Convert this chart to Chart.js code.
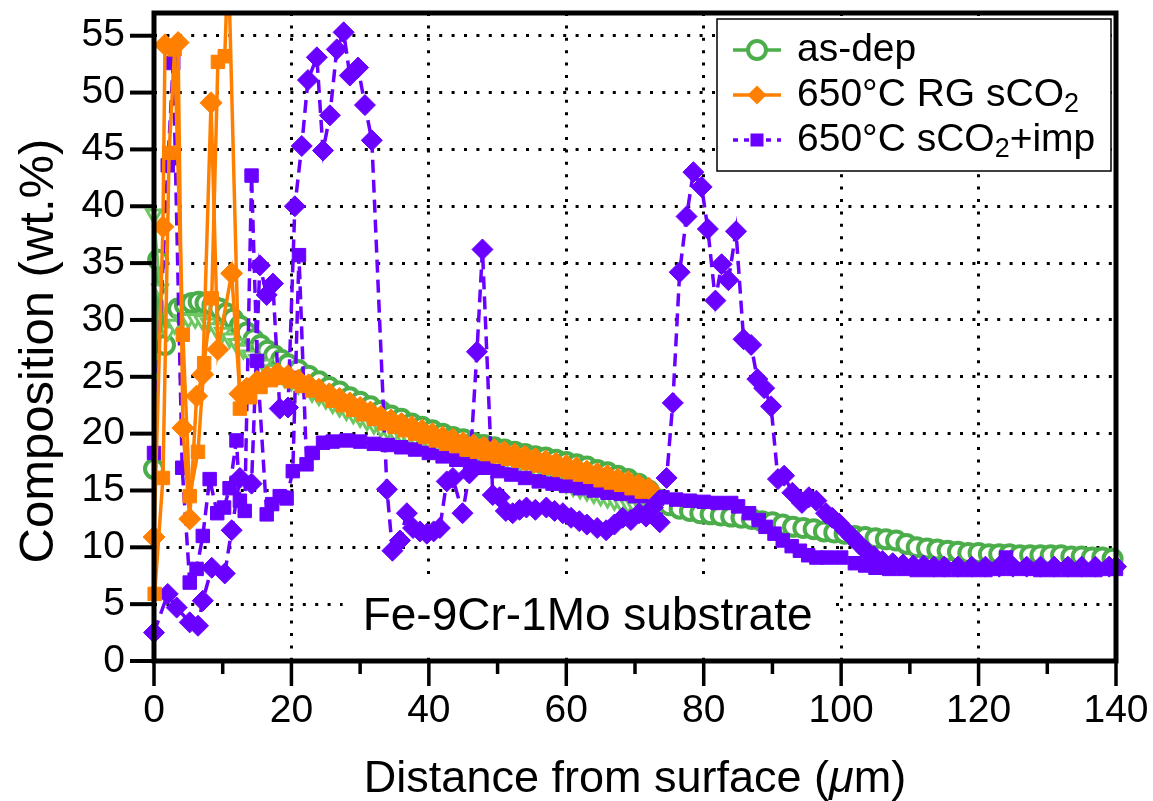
<!DOCTYPE html>
<html lang="en">
<head>
<meta charset="UTF-8">
<title>Composition profile</title>
<script src="https://cdn.jsdelivr.net/npm/chart.js@4.4.0/dist/chart.umd.min.js"></script>
<style>
  html, body { margin: 0; padding: 0; background: #fff; }
  #wrap { width: 1153px; height: 801px; }
</style>
</head>
<body>
<div id="wrap"><canvas id="chart" width="1153" height="801"></canvas></div>
<script>
// as-dep (open circles, and the second as-dep profile in triangles)
const asDepCircles = [[0,16.9],[0.6,35.3],[1.6,27.8],[2.5,30.2],[3.5,31.0],[4.5,31.3],[5.5,31.5],[6.5,31.6],[7.5,31.5],[8.5,31.3],[9.5,31.0],[10.5,30.6],[11.5,30.1],[12.5,29.5],[13.5,28.9],[14.5,28.3],[15.5,27.8],[16.5,27.3],[17.5,26.9],[18.5,26.5],[19.5,26.1],[21,25.6],[22.5,25.1],[24,24.6],[25.5,24.1],[27,23.7],[28.5,23.2],[30,22.8],[31.5,22.4],[33,22.0],[34.5,21.6],[36,21.3],[37.5,20.9],[39,20.6],[40.5,20.3],[42,20.0],[43.5,19.7],[45,19.5],[46.5,19.2],[48,19.0],[49.5,18.8],[51,18.6],[52.5,18.4],[54,18.2],[55.5,18.0],[57,17.9],[58.5,17.7],[60,17.5],[61.5,17.3],[63,17.1],[64.5,16.8],[66,16.6],[67.5,16.3],[69,16.0],[70.5,15.6],[72,15.0],[73.5,14.2],[75,13.7],[76.5,13.4],[78,13.2],[79.5,13.0],[81,12.9],[82.5,12.8],[84,12.7],[85.5,12.6],[87,12.5],[88.5,12.3],[90,12.2],[91.5,12.0],[93,11.8],[94.5,11.7],[96,11.6],[97.5,11.4],[99,11.3],[100.5,11.2],[102,11.0],[103.5,10.9],[105,10.8],[106.5,10.7],[108,10.6],[109.5,10.3],[111,10.0],[112.5,9.9],[114,9.8],[115.5,9.7],[117,9.6],[118.5,9.5],[120,9.5],[121.5,9.4],[123,9.4],[124.5,9.4],[126,9.3],[127.5,9.3],[129,9.3],[130.5,9.3],[132,9.3],[133.5,9.2],[135,9.2],[136.5,9.1],[138,9.1],[139.5,9.0]];
const asDepTriangles = [[0,39.3],[0.9,32.7],[2,29.0],[3,29.6],[4,30.0],[5,30.1],[6,30.1],[7,30.0],[8,29.7],[9,29.3],[10,28.9],[11,28.4],[12,27.9],[13,27.4],[14,26.9],[15,26.5],[16,26.1],[17,25.6],[18,25.2],[19,24.9],[20,24.6],[21,24.3],[22,24.0],[23,23.6],[24,23.3],[25,23.0],[26,22.6],[27,22.3],[28,22.0],[29,21.7],[30,21.4],[31,21.1],[32,20.8],[33,20.5],[34,20.3],[35,20.1],[36,19.9],[37,19.7],[38,19.6],[39,19.4],[40,19.3],[41,19.1],[42,19.0],[43,18.8],[44,18.7],[45,18.5],[46,18.3],[47,18.2],[48,18.0],[49,17.8],[50,17.6],[51,17.4],[52,17.2],[53,17.0],[54,16.8],[55,16.6],[56,16.4],[57,16.2],[58,16.0],[59,15.8],[60,15.6],[61,15.3],[62,15.1],[63,14.9],[64,14.7],[65,14.5],[66,14.3],[67,14.1],[68,13.9],[69,13.8],[70,13.6],[71,13.5],[72,13.3]];

// 650°C RG sCO2 (diamonds and squares)
const rgDiamonds = [[0,10.9],[1.3,38.2],[1.6,54.2],[3.5,54.4],[4.2,20.5],[5.2,12.5],[6.2,23.3],[7.1,25.2],[8.3,49.1],[9.3,27.4],[11.3,34.1],[12.5,23.5],[13.5,24.0],[15,24.6],[16.5,25.0],[18,25.3],[19.5,25.1],[21,24.7],[22.5,24.3],[24,23.9],[25.5,23.5],[27,23.1],[28.5,22.7],[30,22.3],[31.5,21.9],[33,21.5],[34.5,21.2],[36,20.9],[37.5,20.6],[39,20.3],[40.5,20.0],[42,19.7],[43.5,19.5],[45,19.2],[46.5,19.0],[48,18.8],[49.5,18.6],[51,18.4],[52.5,18.2],[54,18.0],[55.5,17.8],[57,17.6],[58.5,17.4],[60,17.2],[61.5,17.0],[63,16.7],[64.5,16.5],[66,16.3],[67.5,16.0],[69,15.8],[70.5,15.5],[72,15.2]];
const rgSquares = [[0.1,5.9],[1.3,16.1],[2.2,44.7],[3.0,53.8],[4.2,28.7],[5.2,14.5],[6.4,18.4],[7.3,26.2],[8.4,31.9],[9.3,52.7],[10.3,53.2],[10.8,62.0],[12.5,22.2],[14,23.2],[15.5,24.1],[17,24.7],[18.5,24.9],[20,24.6],[21.5,24.2],[23,23.8],[24.5,23.4],[26,22.9],[27.5,22.5],[29,22.1],[30.5,21.7],[32,21.3],[33.5,20.9],[35,20.6],[36.5,20.3],[38,20.0],[39.5,19.7],[41,19.4],[42.5,19.1],[44,18.9],[45.5,18.6],[47,18.4],[48.5,18.2],[50,18.0],[51.5,17.8],[53,17.6],[54.5,17.4],[56,17.2],[57.5,17.0],[59,16.8],[60.5,16.6],[62,16.4],[63.5,16.2],[65,15.9],[66.5,15.7],[68,15.5],[69.5,15.2],[71,14.9]];

// 650°C sCO2+imp (squares and diamonds, dashed)
const impSquares = [[0,18.3],[2.0,43.6],[2.8,52.6],[4.1,17.0],[5.2,6.9],[6.2,8.1],[7.1,11.0],[8.1,16.0],[9.2,13.0],[10.2,13.5],[11.0,15.2],[12.0,19.4],[12.5,14.1],[13.2,13.2],[14.2,42.7],[15.0,26.4],[16.4,12.9],[17.2,13.8],[18.3,14.5],[19.3,14.3],[20.2,16.7],[21.1,35.7],[22.2,17.3],[23.1,18.3],[24.6,19.2],[26,19.3],[28,19.4],[30,19.3],[32,19.1],[34,19.0],[36,18.8],[38,18.6],[40,18.3],[42,18.0],[44,17.7],[46,17.3],[48,17.0],[50,16.7],[52,16.4],[54,16.1],[56,15.8],[58,15.6],[60,15.4],[62,15.2],[64,15.0],[66,14.8],[68,14.7],[70,14.5],[72,14.5],[74,14.4],[76,14.2],[78,14.1],[80,14.0],[82,13.9],[84,13.9],[85,13.6],[86.6,13.0],[88,12.4],[89,11.8],[90.3,11.2],[91.5,10.6],[92.8,10.1],[94,9.7],[95.2,9.3],[96.4,9.1],[98,9.1],[100,9.1],[102,8.6],[103.5,8.4],[105,8.2],[107,8.1],[109,8.1],[111,8.0],[113,8.0],[115,8.0],[117,8.0],[119,8.0],[121,8.0],[123,8.1],[124,9.1],[125,8.1],[127,8.1],[129,8.0],[131,8.0],[133,8.0],[135,8.0],[137,8.0],[139,8.1],[140,8.1]];
const impDiamonds = [[0,2.5],[2.0,5.9],[3.3,4.7],[5.2,3.4],[6.4,3.1],[7.1,5.3],[8.4,8.2],[10.3,7.7],[11.3,11.5],[12.5,16.1],[14.2,15.6],[15.4,34.8],[16.4,32.2],[17.3,33.2],[18.3,22.2],[19.5,22.3],[20.5,40.0],[21.5,45.3],[22.4,51.1],[23.7,53.1],[24.6,44.9],[25.6,48.0],[26.6,53.8],[27.6,55.3],[28.5,51.5],[29.7,52.2],[30.7,48.9],[31.7,45.8],[33.9,15.1],[34.7,9.7],[35.8,10.6],[36.8,13.0],[37.7,11.7],[38.7,11.4],[39.7,11.2],[40.7,11.4],[41.6,11.7],[42.6,15.8],[43.5,16.1],[44.9,13.0],[45.9,16.5],[47.0,27.2],[47.8,36.2],[49.3,14.6],[50.3,14.4],[51.2,13.2],[52.2,13.0],[53.2,13.3],[54.2,13.5],[55.5,13.3],[57.1,13.5],[58.3,13.2],[59.5,13.0],[60.7,12.6],[61.9,12.3],[63,12.0],[64.5,11.7],[65.8,11.5],[67,12.0],[68.2,12.6],[69.4,12.4],[70.6,13.0],[71.6,12.7],[72.6,13.5],[73.6,12.2],[74.6,16.1],[75.5,22.7],[76.5,34.2],[77.5,39.1],[78.5,43.0],[79.7,41.7],[80.6,38.0],[81.7,31.7],[82.6,34.9],[83.6,33.5],[84.7,37.8],[85.8,28.3],[86.9,27.8],[87.8,24.8],[88.8,24.0],[89.8,22.4],[90.8,16.0],[91.7,16.3],[92.9,14.8],[94.3,13.9],[95.3,14.4],[96.4,14.1],[97.8,13.0],[98.7,12.6],[99.7,12.1],[100.6,11.5],[101.6,10.9],[102.6,10.3],[103.6,9.7],[104.8,9.2],[106,8.8],[107.5,8.6],[109,8.5],[110.5,8.4],[112,8.4],[113.5,8.3],[115,8.3],[117,8.3],[119,8.3],[121,8.3],[123,8.3],[125,8.3],[127,8.3],[129,8.3],[131,8.3],[133,8.3],[135,8.3],[137,8.3],[139,8.3],[140,8.3]];

// axes
const xRange = [0, 140];
const yRange = [0, 57];
const xStep = 10;     // minor ticks, labels every 20
const yStep = 5;

const legendItems = [
  { text: 'as-dep', sub: '', after: '', kind: 'circle' },
  { text: '650°C RG sCO', sub: '2', after: '', kind: 'diamond' },
  { text: '650°C sCO', sub: '2', after: '+imp', kind: 'square' },
];
const noteText = 'Fe-9Cr-1Mo substrate';
const xTitle = ['Distance from surface (', 'μ', 'm)'];
const yTitle = 'Composition (wt.%)';

const FONT = '"Liberation Sans", Arial, Helvetica, sans-serif';
const GREEN = '#4cae4a';
const GREEN2 = '#6cc860';
const ORANGE = '#ff8000';
const PURPLE = '#6a00ff';

const pts = arr => arr.map(([x, y]) => ({ x, y }));
const clip = { left: 14, top: 0, right: 14, bottom: 14 };

function drawMarker(ctx, kind, x, y) {
  ctx.save();
  if (kind === 'circle') {
    ctx.beginPath(); ctx.arc(x, y, 9, 0, Math.PI * 2);
    ctx.fillStyle = '#fff'; ctx.fill();
    ctx.lineWidth = 4; ctx.strokeStyle = GREEN; ctx.stroke();
  } else if (kind === 'diamond') {
    const r = 9.5;
    ctx.beginPath(); ctx.moveTo(x, y - r); ctx.lineTo(x + r, y); ctx.lineTo(x, y + r); ctx.lineTo(x - r, y); ctx.closePath();
    ctx.fillStyle = ORANGE; ctx.fill();
  } else {
    ctx.fillStyle = PURPLE; ctx.fillRect(x - 6.5, y - 6.5, 13, 13);
  }
  ctx.restore();
}

// keep the plot box exactly where the layout padding puts it
function fixBox(s, key, size) {
  s[key] = size;
  s.paddingTop = 0; s.paddingBottom = 0; s.paddingLeft = 0; s.paddingRight = 0;
}

const decor = {
  id: 'decor',
  beforeDatasetsDraw(chart) {
    const { ctx, scales: { x, y } } = chart;
    ctx.save();
    ctx.font = '46px ' + FONT;
    const w = ctx.measureText(noteText).width;
    const cx = x.getPixelForValue(63.1), cy = y.getPixelForValue(3.85);
    ctx.fillStyle = '#fff';
    ctx.fillRect(cx - w / 2 - 20, cy - 38, w + 40, 76);
    ctx.fillStyle = '#000';
    ctx.textAlign = 'center'; ctx.textBaseline = 'middle';
    ctx.fillText(noteText, cx, cy);
    ctx.restore();
  },
  afterDatasetsDraw(chart) {
    const { ctx, chartArea: a, scales: { x, y } } = chart;
    ctx.save();
    ctx.strokeStyle = '#000';
    // ticks
    ctx.lineWidth = 4;
    y.ticks.forEach(t => {
      const py = y.getPixelForValue(t.value);
      ctx.beginPath(); ctx.moveTo(a.left - 24, py); ctx.lineTo(a.left, py); ctx.stroke();
    });
    ctx.lineWidth = 3.5;
    x.ticks.forEach(t => {
      const px = x.getPixelForValue(t.value);
      const len = t.value % 20 === 0 ? 25 : 13;
      ctx.beginPath(); ctx.moveTo(px, a.bottom); ctx.lineTo(px, a.bottom + len); ctx.stroke();
    });
    // frame
    ctx.lineWidth = 5;
    ctx.strokeRect(a.left, a.top, a.right - a.left, a.bottom - a.top);
    ctx.restore();
  },
  afterDraw(chart) {
    const { ctx, chartArea: a } = chart;
    ctx.save();
    // legend
    const bw = 394, bh = 152;
    const bx = a.right - 5 - bw, by = a.top + 6;
    ctx.fillStyle = '#fff';
    ctx.fillRect(bx, by, bw, bh);
    ctx.lineWidth = 1.5; ctx.strokeStyle = '#000';
    ctx.strokeRect(bx, by, bw, bh);
    legendItems.forEach((it, i) => {
      const ry = by + 31 + i * 45;
      const color = it.kind === 'circle' ? GREEN : it.kind === 'diamond' ? ORANGE : PURPLE;
      ctx.strokeStyle = color; ctx.lineWidth = 3.5;
      ctx.setLineDash(it.kind === 'square' ? [5, 6] : []);
      ctx.beginPath(); ctx.moveTo(bx + 16, ry); ctx.lineTo(bx + 64, ry); ctx.stroke();
      ctx.setLineDash([]);
      drawMarker(ctx, it.kind, bx + 40, ry);
      ctx.fillStyle = '#000'; ctx.textBaseline = 'middle'; ctx.textAlign = 'left';
      ctx.font = '39px ' + FONT;
      let tx = bx + 80;
      ctx.fillText(it.text, tx, ry);
      tx += ctx.measureText(it.text).width;
      if (it.sub) {
        ctx.font = '27px ' + FONT;
        ctx.fillText(it.sub, tx, ry + 10);
        tx += ctx.measureText(it.sub).width;
      }
      if (it.after) {
        ctx.font = '39px ' + FONT;
        ctx.fillText(it.after, tx, ry);
      }
    });
    // axis titles
    ctx.fillStyle = '#000';
    ctx.textBaseline = 'alphabetic';
    ctx.font = '45px ' + FONT;
    const w0 = ctx.measureText(xTitle[0]).width;
    ctx.font = 'italic 45px ' + FONT;
    const w1 = ctx.measureText(xTitle[1]).width;
    ctx.font = '45px ' + FONT;
    const w2 = ctx.measureText(xTitle[2]).width;
    let tx = (a.left + a.right) / 2 - (w0 + w1 + w2) / 2;
    const ty = 792;
    ctx.textAlign = 'left';
    ctx.fillText(xTitle[0], tx, ty); tx += w0;
    ctx.font = 'italic 45px ' + FONT;
    ctx.fillText(xTitle[1], tx, ty); tx += w1;
    ctx.font = '45px ' + FONT;
    ctx.fillText(xTitle[2], tx, ty);

    ctx.font = '49px ' + FONT;
    ctx.translate(53, 351);
    ctx.rotate(-Math.PI / 2);
    ctx.textAlign = 'center';
    ctx.fillText(yTitle, 0, 0);
    ctx.restore();
  }
};

const tickFont = { family: FONT, size: 39 };

new Chart(document.getElementById('chart'), {
  type: 'line',
  data: {
    datasets: [
      { label: '650°C RG sCO2', data: pts(rgDiamonds), order: 1, borderColor: ORANGE, borderWidth: 3.5,
        pointStyle: 'rectRot', pointRadius: 11, pointBackgroundColor: ORANGE, pointBorderColor: ORANGE, pointBorderWidth: 1, clip },
      { label: '650°C RG sCO2 (sq)', data: pts(rgSquares), order: 2, borderColor: ORANGE, borderWidth: 3.5,
        pointStyle: 'rect', pointRadius: 9.5, pointBackgroundColor: ORANGE, pointBorderColor: ORANGE, pointBorderWidth: 1, clip },
      { label: '650°C sCO2+imp (dia)', data: pts(impDiamonds), order: 3, borderColor: PURPLE, borderWidth: 3.5, borderDash: [13, 7],
        pointStyle: 'rectRot', pointRadius: 10.5, pointBackgroundColor: PURPLE, pointBorderColor: PURPLE, pointBorderWidth: 1, clip },
      { label: '650°C sCO2+imp', data: pts(impSquares), order: 4, borderColor: PURPLE, borderWidth: 3.5, borderDash: [13, 7],
        pointStyle: 'rect', pointRadius: 9.5, pointBackgroundColor: PURPLE, pointBorderColor: PURPLE, pointBorderWidth: 1, clip },
      { label: 'as-dep (tri)', data: pts(asDepTriangles), order: 5, borderColor: GREEN2, borderWidth: 2.5,
        pointStyle: 'triangle', rotation: 180, pointRadius: 8.5, pointBackgroundColor: '#fff', pointBorderColor: GREEN2, pointBorderWidth: 3, clip },
      { label: 'as-dep', data: pts(asDepCircles), order: 6, borderColor: GREEN, borderWidth: 3.5,
        pointStyle: 'circle', pointRadius: 9, pointBackgroundColor: '#fff', pointBorderColor: GREEN, pointBorderWidth: 4, clip },
    ]
  },
  options: {
    responsive: false,
    animation: false,
    events: [],
    layout: { padding: { top: 10, right: 37, left: 0, bottom: 0 } },
    elements: { line: { tension: 0 } },
    plugins: { legend: { display: false }, tooltip: { enabled: false } },
    scales: {
      x: {
        type: 'linear', min: xRange[0], max: xRange[1],
        afterFit: s => fixBox(s, 'height', 140),
        ticks: { stepSize: xStep, padding: 27, color: '#000', font: tickFont, maxRotation: 0, autoSkip: false,
                 callback: v => (v % 20 === 0 ? v : '') },
        grid: { drawTicks: false, lineWidth: 3,
                color: c => (c.tick && c.tick.value % 20 === 0 && c.tick.value > 0 && c.tick.value < 140) ? '#000' : 'rgba(0,0,0,0)' },
        border: { display: false, dash: [3, 9.4] }
      },
      y: {
        min: yRange[0], max: yRange[1],
        afterFit: s => fixBox(s, 'width', 154),
        ticks: { stepSize: yStep, includeBounds: false, padding: 29, color: '#000', font: tickFont },
        grid: { drawTicks: false, lineWidth: 3,
                color: c => (c.tick && c.tick.value > 0) ? '#000' : 'rgba(0,0,0,0)' },
        border: { display: false, dash: [3, 9.4] }
      }
    }
  },
  plugins: [decor]
});
</script>
</body>
</html>
